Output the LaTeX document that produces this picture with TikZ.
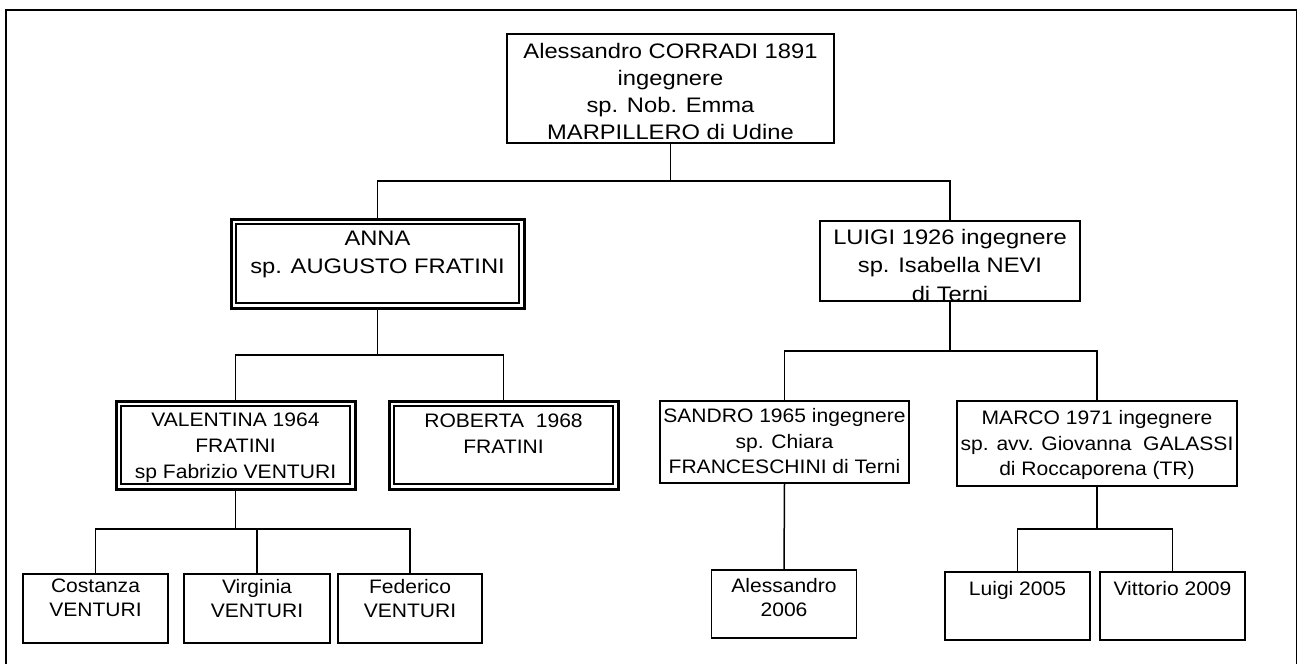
\documentclass[tikz,border=0pt]{standalone}
\usepackage{fontspec}
\setmainfont{Liberation Sans}
\newfontfamily\fa[FakeStretch=1.13]{Liberation Sans}
\newfontfamily\fb[FakeStretch=1.08]{Liberation Sans}
\begin{document}
\begin{tikzpicture}[x=1pt,y=-1pt,
  box/.style={draw, line width=1.5pt, inner sep=0pt, outer sep=0pt, anchor=north west},
  dbox/.style={draw, line width=3pt, inner sep=0pt, outer sep=0pt, anchor=north west},
  ta/.style={font=\fa\fontsize{21}{28.3}\selectfont, align=center, inner sep=0pt, anchor=north},
  tr/.style={font=\fa\fontsize{21}{27}\selectfont, align=center, inner sep=0pt, anchor=north},
  tb/.style={font=\fb\fontsize{19.5}{25.7}\selectfont, align=center, inner sep=0pt, anchor=north},
  tc/.style={font=\fb\fontsize{19.5}{24}\selectfont, align=center, inner sep=0pt, anchor=north},
  conn/.style={line width=1.5pt},
  frame/.style={line width=2.2pt}]
\useasboundingbox (0,0) rectangle (1298,664);
% frame
\coordinate (f1) at (6,664);
\coordinate (f2) at (6,10);
\coordinate (f3) at (1296.5,10);
\coordinate (f4) at (1296.5,664);
\draw[frame] (f1) -- (f2) -- (f3);
\draw[line width=1.2pt] (f3) -- (f4);

% level 0
\node[box, minimum width=327pt, minimum height=109pt] (root) at (507,34) {};
\node[tr] (rootT) at ([yshift=-9pt]root.north) {Alessandro CORRADI 1891\\ingegnere\\sp. Nob. Emma\\MARPILLERO di Udine};

% level 1
\node[dbox, minimum width=293pt, minimum height=89pt] (anna) at (231,219) {};
\draw[line width=1.7pt] ([shift={(5,5)}]anna.north west) rectangle ([shift={(-5,-5)}]anna.south east);
\node[ta] (annaT) at ([yshift=-12pt]anna.north) {ANNA\\sp. AUGUSTO FRATINI};

\node[box, minimum width=260pt, minimum height=80pt] (luigi) at (820,221) {};
\node[ta] (luigiT) at ([yshift=-8pt]luigi.north) {LUIGI 1926 ingegnere\\sp. Isabella NEVI\\di Terni};

% level 2
\node[dbox, minimum width=239pt, minimum height=88pt] (val) at (116,401) {};
\draw[line width=1.7pt] ([shift={(5,5)}]val.north west) rectangle ([shift={(-5,-5)}]val.south east);
\node[tb] (valT) at ([yshift=-12pt]val.north) {VALENTINA 1964\\FRATINI\\sp Fabrizio VENTURI};

\node[dbox, minimum width=229pt, minimum height=88pt] (rob) at (389,401) {};
\draw[line width=1.7pt] ([shift={(5,5)}]rob.north west) rectangle ([shift={(-5,-5)}]rob.south east);
\node[tb] (robT) at ([yshift=-13pt]rob.north) {ROBERTA~~1968\\FRATINI};

\node[box, minimum width=249pt, minimum height=82pt] (sandro) at (660,401) {};
\node[tb] (sandroT) at ([yshift=-7pt]sandro.north) {SANDRO 1965 ingegnere\\sp. Chiara\\FRANCESCHINI di Terni};

\node[box, minimum width=280pt, minimum height=85pt] (marco) at (957,401) {};
\node[tb] (marcoT) at ([yshift=-9pt]marco.north) {MARCO 1971 ingegnere\\sp. avv. Giovanna~~GALASSI\\di Roccaporena (TR)};

% level 3
\node[box, minimum width=145pt, minimum height=69pt] (cost) at (23,574) {};
\node[tc] (costT) at ([yshift=-5pt]cost.north) {Costanza\\VENTURI};
\node[box, minimum width=146pt, minimum height=69pt] (virg) at (184,574) {};
\node[tc] (virgT) at ([yshift=-5pt]virg.north) {Virginia\\VENTURI};
\node[box, minimum width=144pt, minimum height=69pt] (fed) at (338,574) {};
\node[tc] (fedT) at ([yshift=-5pt]fed.north) {Federico\\VENTURI};

\node[box, minimum width=145pt, minimum height=68pt] (ales) at (711.5,570) {};
\node[tc] (alesT) at ([yshift=-8pt]ales.north) {Alessandro\\2006};

\node[box, minimum width=145pt, minimum height=68pt] (lu) at (945,572) {};
\node[tc] (luT) at ([yshift=-9pt]lu.north) {Luigi 2005};
\node[box, minimum width=145pt, minimum height=68pt] (vit) at (1100,572) {};
\node[tc] (vitT) at ([yshift=-9pt]vit.north) {Vittorio 2009};

% connectors
\coordinate (j1) at (670.5,181);
\coordinate (j2) at (377.5,355);
\coordinate (j3) at (950,351);
\coordinate (j4) at (235.5,529);
\coordinate (j5) at (1097,529);

\draw[conn] (root.south) -- (j1);
\draw[conn] (anna.north) -- (anna.north |- j1) -- (luigi.north |- j1) -- (luigi.north);

\draw[conn] (anna.south) -- (j2);
\draw[conn] (val.north) -- (val.north |- j2) -- (rob.north |- j2) -- (rob.north);

\draw[conn] (luigi.south) -- (j3);
\draw[conn] (sandro.north) -- (sandro.north |- j3) -- (marco.north |- j3) -- (marco.north);

\draw[conn] (val.south) -- (j4);
\draw[conn] (cost.north) -- (cost.north |- j4) -- (fed.north |- j4) -- (fed.north);
\draw[conn] (virg.north) -- (virg.north |- j4);

\draw[conn] (sandro.south) -- (ales.north);

\draw[conn] (marco.south) -- (j5);
\draw[conn] (lu.north) -- (lu.north |- j5) -- (vit.north |- j5) -- (vit.north);
\end{tikzpicture}
\end{document}
